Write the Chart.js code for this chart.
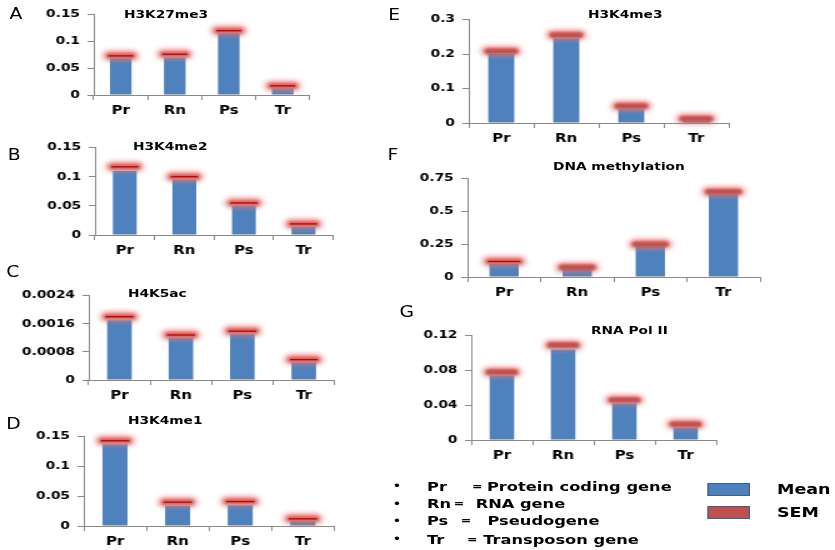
<!DOCTYPE html>
<html>
<head>
<meta charset="utf-8">
<script src="https://cdn.jsdelivr.net/npm/chart.js@4.4.1/dist/chart.umd.min.js"></script>
<style>
  html, body { margin: 0; padding: 0; background: #fff; overflow: hidden; }
  /* the figure is laid out at 668px wide and stretched horizontally */
  #fig { position: relative; width: 668px; height: 550px; transform: scaleX(1.25); transform-origin: 0 0;
         font-family: "DejaVu Sans", sans-serif; color: #000; }
  #fig canvas { position: absolute; }
  .txt { position: absolute; white-space: nowrap; z-index: 2; }
  .letter { font-size: 15px; line-height: 15px; font-weight: normal; }
  .title { font-size: 11px; line-height: 11px; font-weight: bold; }
  .key { font-size: 13px; line-height: 13px; font-weight: bold; }
  .eq { font-size: 10px; line-height: 10px; font-weight: bold; }
  .bullet { font-size: 12px; line-height: 12px; font-weight: normal; }
  .swatch { position: absolute; box-sizing: border-box; border: 1.5px solid #3f5f85; z-index: 2; }
</style>
</head>
<body>
<div id="fig"></div>
<script>
// Gene classes on the x axis
const categories = ['Pr', 'Rn', 'Ps', 'Tr'];

// A: H3K27me3
const meanA = [0.068, 0.070, 0.115, 0.012];
const semA  = [0.005, 0.006, 0.005, 0.005];
const ticksA = ['0', '0.05', '0.1', '0.15'];

// B: H3K4me2
const meanB = [0.110, 0.095, 0.050, 0.014];
const semB  = [0.007, 0.005, 0.005, 0.005];
const ticksB = ['0', '0.05', '0.1', '0.15'];

// C: H4K5ac
const meanC = [0.00170, 0.00120, 0.00130, 0.00050];
const semC  = [0.00010, 0.00008, 0.00009, 0.00008];
const ticksC = ['0', '0.0008', '0.0016', '0.0024'];

// D: H3K4me1
const meanD = [0.137, 0.034, 0.035, 0.008];
const semD  = [0.006, 0.006, 0.006, 0.004];
const ticksD = ['0', '0.05', '0.1', '0.15'];

// E: H3K4me3
const meanE = [0.200, 0.245, 0.040, 0.006];
const semE  = [0.008, 0.010, 0.009, 0.006];
const ticksE = ['0', '0.1', '0.2', '0.3'];

// F: DNA methylation
const meanF = [0.100, 0.060, 0.235, 0.630];
const semF  = [0.018, 0.013, 0.015, 0.020];
const ticksF = ['0', '0.25', '0.5', '0.75'];

// G: RNA Pol II
const meanG = [0.074, 0.104, 0.042, 0.014];
const semG  = [0.004, 0.005, 0.004, 0.004];
const ticksG = ['0', '0.04', '0.08', '0.12'];

// Legend texts
const keyRows = [
  ['Pr', 'Protein coding gene'],
  ['Rn', 'RNA gene'],
  ['Ps', 'Pseudogene'],
  ['Tr', 'Transposon gene']
];
const seriesNames = ['Mean', 'SEM'];

// Panel placement (plot area in layout px) and decorations
const panels = [
  { letter: 'A', title: 'H3K27me3', mean: meanA, sem: semA, ticks: ticksA,
    area: { l: 74.8, r: 247.6, t: 10, b: 95 }, letterAt: [7.5, 14], titleAt: [99.2, 14.7], capLine: [1, 1, 1, 1] },
  { letter: 'B', title: 'H3K4me2', mean: meanB, sem: semB, ticks: ticksB,
    area: { l: 76, r: 266.6, t: 143, b: 235 }, letterAt: [6.2, 155], titleAt: [106.4, 146.7], capLine: [1, 1, 1, 1] },
  { letter: 'C', title: 'H4K5ac', mean: meanC, sem: semC, ticks: ticksC,
    area: { l: 71.4, r: 268, t: 291, b: 380 }, letterAt: [5, 271.7], titleAt: [102.4, 293], capLine: [1, 1, 1, 1] },
  { letter: 'D', title: 'H3K4me1', mean: meanD, sem: semD, ticks: ticksD,
    area: { l: 66.9, r: 267.2, t: 432, b: 526 }, letterAt: [5, 424], titleAt: [102.4, 420], capLine: [1, 1, 1, 1] },
  { letter: 'E', title: 'H3K4me3', mean: meanE, sem: semE, ticks: ticksE,
    area: { l: 374.6, r: 582.6, t: 15, b: 123 }, letterAt: [310.5, 15], titleAt: [470.4, 14.3], capLine: [0, 0, 0, 0] },
  { letter: 'F', title: 'DNA methylation', mean: meanF, sem: semF, ticks: ticksF,
    area: { l: 374.4, r: 608.4, t: 174, b: 277 }, letterAt: [310, 155.3], titleAt: [442.4, 166], capLine: [1, 0, 0, 0] },
  { letter: 'G', title: 'RNA Pol II', mean: meanG, sem: semG, ticks: ticksG,
    area: { l: 377.4, r: 573.4, t: 331, b: 440 }, letterAt: [319.5, 311.7], titleAt: [472.8, 330], capLine: [0, 0, 0, 0] }
];

const fig = document.getElementById('fig');
const Y_W = 60, X_H = 30, PAD_T = 8, PAD_R = 6;
const AXIS = '#8a8a8a';

function addText(cls, text, x, cy, size) {
  const d = document.createElement('div');
  d.className = 'txt ' + cls;
  d.textContent = text;
  d.style.left = x + 'px';
  d.style.top = (cy - 0.48 * size) + 'px';
  fig.appendChild(d);
  return d;
}

function roundRect(ctx, x, y, w, h, r) {
  ctx.beginPath();
  ctx.moveTo(x + r, y);
  ctx.lineTo(x + w - r, y);
  ctx.arc(x + w - r, y + r, r, -Math.PI / 2, Math.PI / 2);
  ctx.lineTo(x + r, y + h);
  ctx.arc(x + r, y + r, r, Math.PI / 2, Math.PI * 1.5);
  ctx.closePath();
}

// Glowing SEM cap drawn at mean + SEM above each bar
const semMarks = {
  id: 'semMarks',
  afterDatasetsDraw(chart, args, opts) {
    const ctx = chart.ctx;
    const yScale = chart.scales.y;
    const ds = chart.data.datasets[0];
    chart.getDatasetMeta(0).data.forEach((bar, i) => {
      const py = yScale.getPixelForValue(ds.data[i] + opts.sem[i]);
      const hw = bar.width / 2;
      ctx.save();
      ctx.filter = 'blur(2.6px)';
      ctx.fillStyle = 'rgba(222,118,116,0.85)';
      roundRect(ctx, bar.x - hw - 5.5, py - 5, 2 * hw + 11, 10, 5);
      ctx.fill();
      ctx.filter = 'blur(1.2px)';
      ctx.fillStyle = opts.capLine[i] ? 'rgba(205,88,86,0.7)' : 'rgba(190,76,74,0.92)';
      roundRect(ctx, bar.x - hw - 3, py - 2.8, 2 * hw + 6, 5.6, 2.8);
      ctx.fill();
      ctx.restore();
      if (opts.capLine[i]) {
        ctx.save();
        ctx.strokeStyle = '#c00000';
        ctx.lineWidth = 1.3;
        ctx.beginPath();
        ctx.moveTo(bar.x - hw - 1.3, py);
        ctx.lineTo(bar.x + hw + 1.3, py);
        ctx.stroke();
        ctx.restore();
      }
    });
  }
};

panels.forEach(p => {
  const a = p.area;
  const canvas = document.createElement('canvas');
  const w = Math.round((a.r - a.l) + Y_W + PAD_R);
  const h = Math.round((a.b - a.t) + PAD_T + X_H);
  canvas.width = w;
  canvas.height = h;
  canvas.style.width = w + 'px';
  canvas.style.height = h + 'px';
  canvas.style.left = (a.l - Y_W) + 'px';
  canvas.style.top = (a.t - PAD_T) + 'px';
  fig.appendChild(canvas);

  const tickValues = p.ticks.map(Number);
  const padR = w - Y_W - (a.r - a.l);

  new Chart(canvas, {
    type: 'bar',
    data: {
      labels: categories,
      datasets: [{
        label: seriesNames[0],
        data: p.mean,
        backgroundColor: '#4f81bd',
        borderWidth: 0,
        barPercentage: 0.4,
        categoryPercentage: 1.0
      }]
    },
    options: {
      responsive: false,
      animation: false,
      devicePixelRatio: 1,
      layout: { padding: { top: PAD_T, right: padR, left: 0, bottom: 0 } },
      plugins: {
        legend: { display: false },
        tooltip: { enabled: false },
        semMarks: { sem: p.sem, capLine: p.capLine }
      },
      scales: {
        x: {
          offset: true,
          grid: { display: true, drawOnChartArea: false, drawTicks: true, tickLength: 5, color: AXIS, offset: true },
          border: { display: true, color: AXIS, width: 1 },
          ticks: { color: '#000', padding: 4, font: { family: 'DejaVu Sans', size: 12, weight: 'bold' } },
          afterFit: s => { s.height = X_H; }
        },
        y: {
          min: tickValues[0],
          max: tickValues[tickValues.length - 1],
          afterBuildTicks: s => { s.ticks = tickValues.map(v => ({ value: v })); },
          grid: { display: true, drawOnChartArea: false, drawTicks: true, tickLength: 5, color: AXIS },
          border: { display: true, color: AXIS, width: 1 },
          ticks: {
            color: '#000', padding: 6,
            font: { family: 'DejaVu Sans', size: 11, weight: 'bold' },
            callback: (v, i) => p.ticks[i]
          },
          afterFit: s => { s.width = Y_W; }
        }
      }
    },
    plugins: [semMarks]
  });

  addText('letter', p.letter, p.letterAt[0], p.letterAt[1], 15);
  addText('title', p.title, p.titleAt[0], p.titleAt[1], 11);
});

// Abbreviation key
const rowY = [486, 503.3, 520.7, 539];
const eqX = [377.5, 363, 368.5, 373.5];
const descX = [389.5, 380.5, 390, 386.5];
keyRows.forEach((r, i) => {
  addText('bullet', '\u2022', 314, rowY[i], 12);
  addText('key', r[0], 341.6, rowY[i], 13);
  addText('eq', '=', eqX[i], rowY[i] + 0.5, 10);
  addText('key', r[1], descX[i], rowY[i], 13);
});

// Series key
[['#4f81bd', 482.7], ['#c0504d', 506]].forEach((s, i) => {
  const b = document.createElement('div');
  b.className = 'swatch';
  b.style.background = s[0];
  b.style.left = '566.4px';
  b.style.top = s[1] + 'px';
  b.style.width = '33.6px';
  b.style.height = '13px';
  fig.appendChild(b);
  addText('key', seriesNames[i], 621.6, [489.3, 512.3][i], 14).style.fontSize = '14px';
});
</script>
</body>
</html>
